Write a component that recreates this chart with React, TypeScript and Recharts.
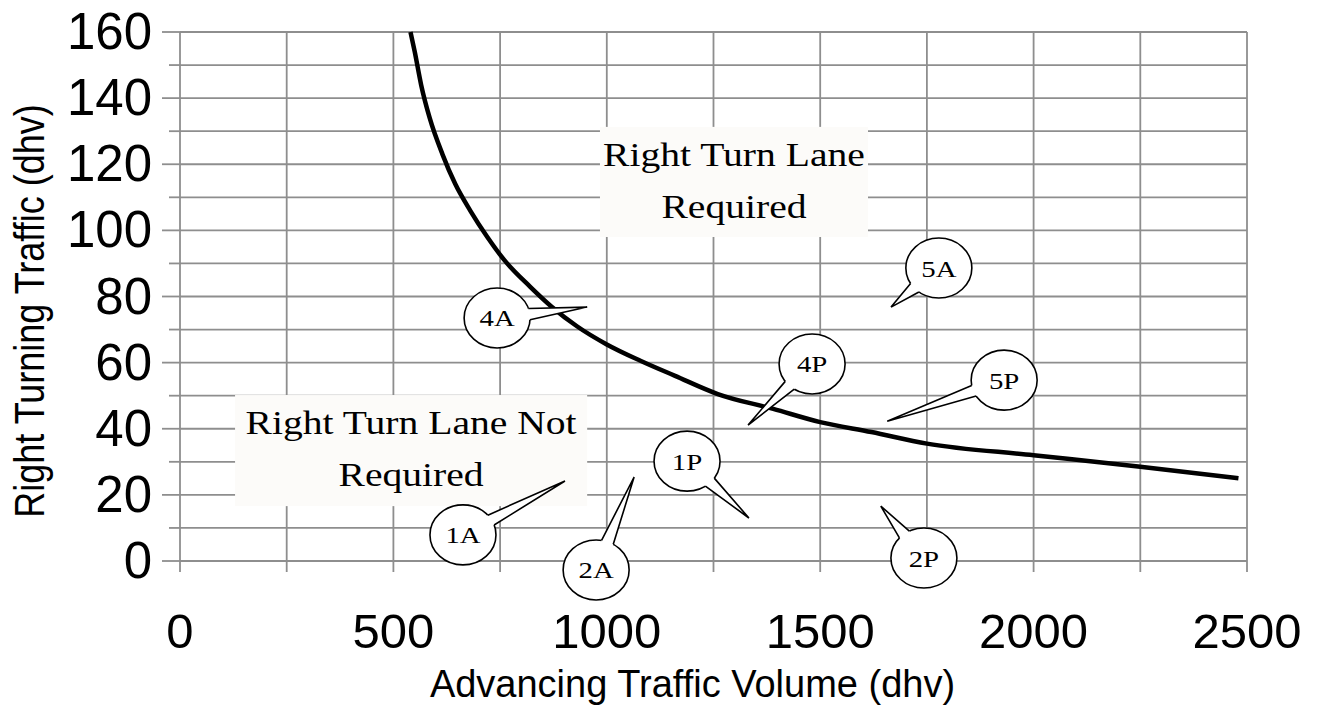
import React from 'react';
import {
  LineChart,
  Line,
  XAxis,
  YAxis,
  CartesianGrid,
  ReferenceArea,
  ReferenceDot,
  ReferenceLine,
} from 'recharts';

// curve
const volume = [540, 550, 565, 585, 615, 645, 680, 720, 760, 820, 870, 930, 1000, 1080, 1160, 1260, 1390, 1500, 1620, 1750, 2000, 2250, 2480];
const turning = [160, 154, 144, 134, 123, 114, 106, 98, 91, 83, 77, 71, 65.5, 60.5, 56, 50.5, 46, 42, 39, 35.5, 32, 28.5, 25];

const xTicks = [0, 250, 500, 750, 1000, 1250, 1500, 1750, 2000, 2250, 2500];
const yTicks = [0, 10, 20, 30, 40, 50, 60, 70, 80, 90, 100, 110, 120, 130, 140, 150, 160];

// region notes
const regionLines = [
  ['Right Turn Lane', 'Required'],
  ['Right Turn Lane Not', 'Required'],
];
const regionX = [[984, 1612], [129, 954]];
const regionY = [[98, 131.3], [16.6, 50.2]];

// callout bubbles: label, centre and tail tip (data units)
const calloutLabels = ['1A', '2A', '1P', '2P', '4A', '4P', '5A', '5P'];
const calloutAt = [[663, 7.9], [975, -2.7], [1188, 30.2], [1743, 0.9], [743, 73.5], [1481, 59.6], [1778, 88.6], [1931, 54.7]];
const calloutTip = [[902, 24.2], [1064, 25.4], [1333, 13], [1642, 16.6], [954, 76.8], [1331, 41.1], [1666, 76.8], [1657, 42.3]];

const W = 1326;
const H = 706;
const MARGIN = { top: 32, right: 79, bottom: 0, left: 0 };
const Y_W = 180;
const X_H = 145;
const PX_X = (W - MARGIN.right - Y_W) / 2500;
const PX_Y = (H - X_H - MARGIN.top) / 160;

const GRID = '#8e8e8e';
const SANS = '"Liberation Sans", Arial, sans-serif';
const SERIF = '"Liberation Serif", "Times New Roman", serif';

const series = volume.map((x, i) => ({ x, y: turning[i] }));

const XTick = (props: any) => {
  const { x, y, payload } = props;
  const v = payload.value;
  if (v % 500 !== 0) return <g />;
  return (
    <text x={x} y={y + 87} textAnchor='middle' fontSize={49} fontFamily={SANS} fill='#000'>
      {v}
    </text>
  );
};

const YTick = (props: any) => {
  const { x, y, payload } = props;
  const v = payload.value;
  const major = v % 20 === 0;
  return (
    <g>
      <line x1={x - (major ? 18 : 11)} x2={x} y1={y} y2={y} stroke={GRID} strokeWidth={1.8} />
      {major && (
        <text x={x - 28} y={y + 17} textAnchor='end' fontSize={51} fontFamily={SANS} fill='#000'>
          {v}
        </text>
      )}
    </g>
  );
};

// tick mark hanging below the plot, drawn as a reference line so bubbles can cover it
const TickMark = (p: any) => {
  const yb = Math.max(p.y1, p.y2);
  return <line x1={p.x1} x2={p.x1} y1={yb} y2={yb + 11} stroke={GRID} strokeWidth={1.8} />;
};

const Bubble = ({ cx, cy, dx, dy, text }: any) => {
  const rx = 33;
  const ry = 30;
  const a = Math.atan2(dy / ry, dx / rx);
  const d = 0.19;
  const p1 = `${cx + rx * Math.cos(a - d)},${cy + ry * Math.sin(a - d)}`;
  const p2 = `${cx + rx * Math.cos(a + d)},${cy + ry * Math.sin(a + d)}`;
  const tip = `${cx + dx},${cy + dy}`;
  return (
    <g>
      <ellipse cx={cx} cy={cy} rx={rx} ry={ry} fill='#fff' stroke='#000' strokeWidth={1.6} />
      <polygon points={`${p1} ${tip} ${p2} ${cx},${cy}`} fill='#fff' stroke='none' />
      <polyline points={`${p1} ${tip} ${p2}`} fill='none' stroke='#000' strokeWidth={1.6} />
      <text
        transform={`translate(${cx},${cy + 8.5}) scale(1.2,1)`}
        textAnchor='middle'
        fontSize={24}
        fontFamily={SERIF}
        fill='#000'
      >
        {text}
      </text>
    </g>
  );
};

const RegionBox = ({ x, y, width, height, lines }: any) => (
  <g>
    <rect x={x} y={y} width={width} height={height} fill='#fcfbf9' stroke='none' />
    {lines.map((t: string, i: number) => (
      <text
        key={t}
        transform={`translate(${x + width / 2},${y + 39 + i * 52}) scale(1.2,1)`}
        textAnchor='middle'
        fontSize={33}
        fontFamily={SERIF}
        fill='#000'
      >
        {t}
      </text>
    ))}
  </g>
);

export default function App() {
  return (
    <div style={{ position: 'absolute', left: 0, top: 0, background: '#fff' }}>
      <LineChart width={W} height={H} data={series} margin={MARGIN}>
        <CartesianGrid stroke={GRID} strokeWidth={1.8} />
        <XAxis
          dataKey='x'
          type='number'
          domain={[0, 2500]}
          ticks={xTicks}
          interval={0}
          height={X_H}
          tickSize={0}
          tickMargin={0}
          tickLine={false}
          axisLine={false}
          tick={<XTick />}
          label={{
            content: ({ viewBox }: any) => (
              <text
                x={viewBox.x + viewBox.width / 2 - 21}
                y={viewBox.y + 136}
                textAnchor='middle'
                fontSize={38}
                fontFamily={SANS}
                fill='#000'
              >
                Advancing Traffic Volume (dhv)
              </text>
            ),
          }}
        />
        <YAxis
          type='number'
          domain={[0, 160]}
          ticks={yTicks}
          interval={0}
          width={Y_W}
          tickSize={0}
          tickMargin={0}
          tickLine={false}
          axisLine={false}
          tick={<YTick />}
          label={{
            content: () => (
              <text
                transform={`translate(44,311) scale(1.18,1) rotate(-90)`}
                textAnchor='middle'
                fontSize={36}
                fontFamily={SANS}
                fill='#000'
              >
                Right Turning Traffic (dhv)
              </text>
            ),
          }}
        />
        {xTicks.map((v) => (
          <ReferenceLine key={`t${v}`} x={v} ifOverflow='visible' shape={TickMark} />
        ))}
        {regionLines.map((lines, i) => (
          <ReferenceArea
            key={i}
            x1={regionX[i][0]}
            x2={regionX[i][1]}
            y1={regionY[i][0]}
            y2={regionY[i][1]}
            shape={(p: any) => <RegionBox {...p} lines={lines} />}
          />
        ))}
        {calloutLabels.map((t, i) => (
          <ReferenceDot
            key={t}
            x={calloutAt[i][0]}
            y={calloutAt[i][1]}
            ifOverflow='visible'
            shape={(p: any) => (
              <Bubble
                cx={p.cx}
                cy={p.cy}
                dx={(calloutTip[i][0] - calloutAt[i][0]) * PX_X}
                dy={-(calloutTip[i][1] - calloutAt[i][1]) * PX_Y}
                text={t}
              />
            )}
          />
        ))}
        <Line
          dataKey='y'
          type='monotone'
          stroke='#000'
          strokeWidth={4.5}
          dot={false}
          activeDot={false}
          isAnimationActive={false}
        />
      </LineChart>
    </div>
  );
}
